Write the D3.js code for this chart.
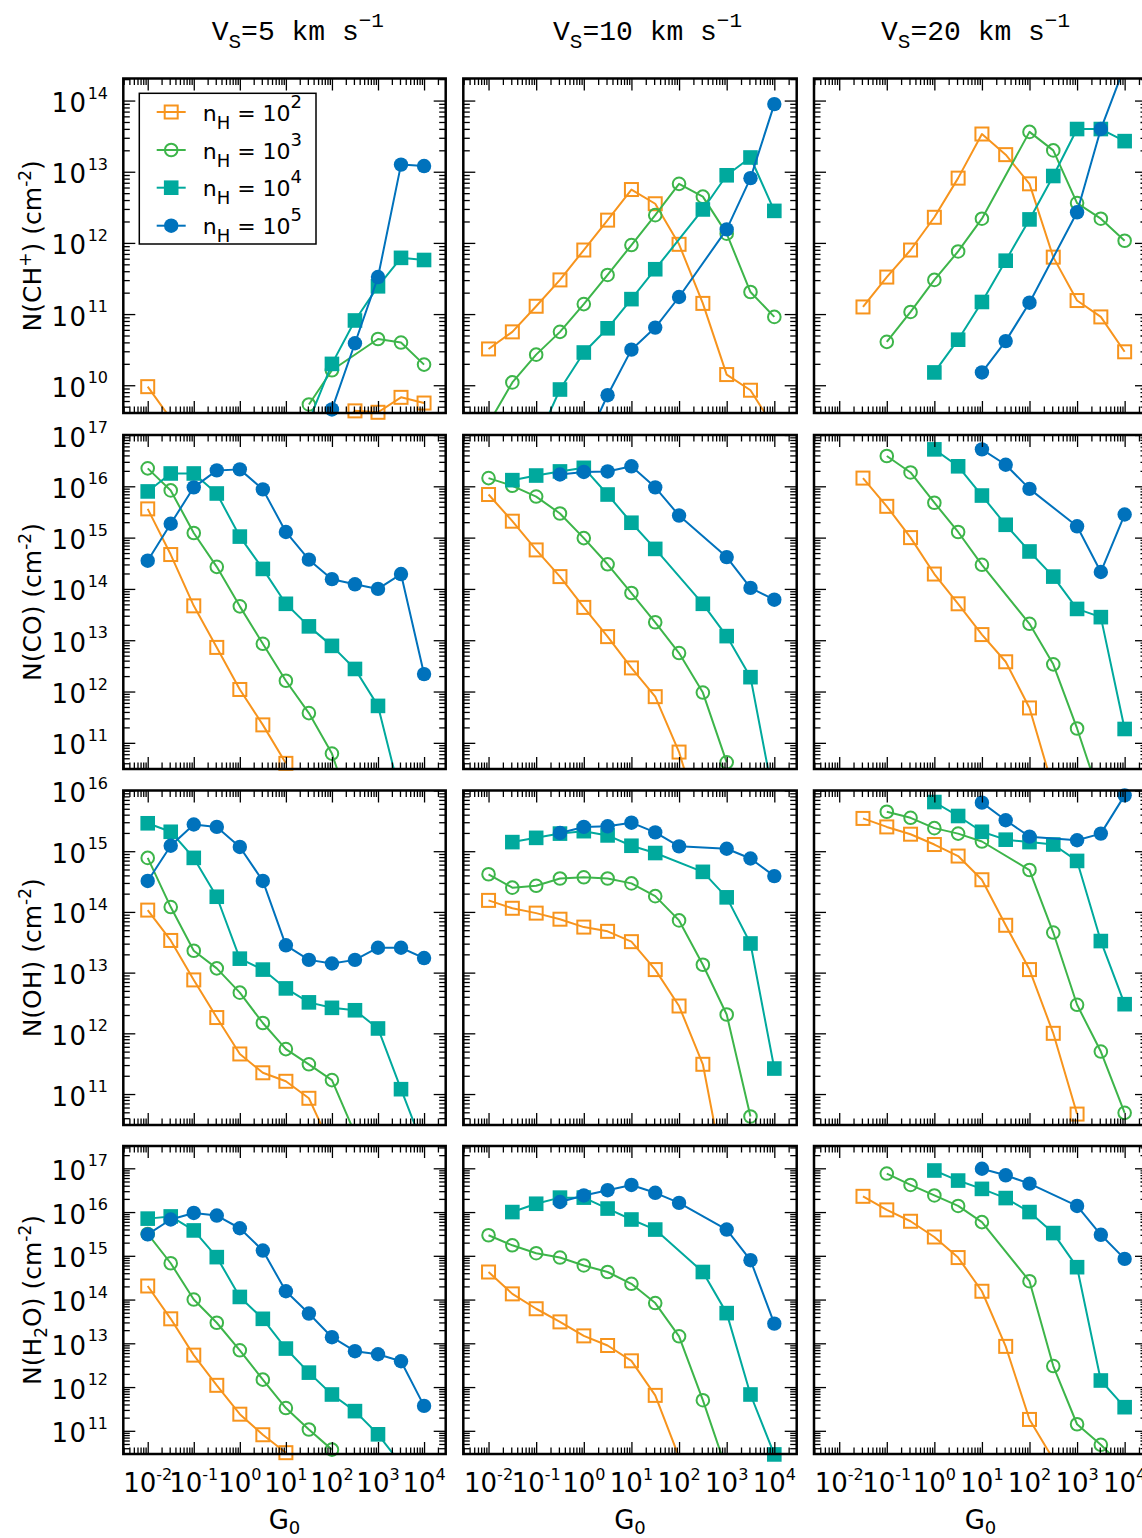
<!DOCTYPE html>
<html><head><meta charset="utf-8">
<script src="https://cdn.jsdelivr.net/npm/d3@7"></script>
<style>body{margin:0;background:#fff} text{white-space:pre}</style>
</head><body>
<svg id="chart" width="1142" height="1538" xmlns="http://www.w3.org/2000/svg"></svg>
<script>
// ---------------- DATA ----------------
const G0 = [0.01, 0.0316, 0.1, 0.316, 1, 3.16, 10, 31.6, 100, 316, 1000, 3160, 10000];
const densityExp = ["2", "3", "4", "5"];
const velocityLabels = ["5", "10", "20"];
const xTickExp = [-2, -1, 0, 1, 2, 3, 4];
const yTickExp_CHp = [10, 11, 12, 13, 14];
const yTickExp_CO  = [11, 12, 13, 14, 15, 16, 17];
const yTickExp_OH  = [11, 12, 13, 14, 15, 16];
const yTickExp_H2O = [11, 12, 13, 14, 15, 16, 17];

// log10 column densities (cm^-2); null = no point
// Row 1: CH+
const CHp_v5_n2  = [9.98, 9.53, null, null, null, null, null, null, 9.30, 9.64, 9.62, 9.83, 9.75];
const CHp_v5_n3  = [null, null, null, null, null, null, null, 9.73, 10.21, null, 10.65, 10.60, 10.29];
const CHp_v5_n4  = [null, null, null, null, null, null, null, 9.50, 10.30, 10.91, 11.39, 11.79, 11.76];
const CHp_v5_n5  = [null, null, null, null, null, null, null, null, 9.66, 10.59, 11.52, 13.10, 13.08];
const CHp_v10_n2 = [10.51, 10.75, 11.11, 11.48, 11.90, 12.32, 12.75, 12.55, 11.98, 11.15, 10.15, 9.93, 9.40];
const CHp_v10_n3 = [9.46, 10.04, 10.43, 10.75, 11.14, 11.55, 11.97, 12.39, 12.83, 12.65, 12.13, 11.31, 10.96];
const CHp_v10_n4 = [null, null, 9.20, 9.94, 10.46, 10.80, 11.21, 11.63, null, 12.47, 12.95, 13.20, 12.45];
const CHp_v10_n5 = [null, null, null, null, 9.14, 9.86, 10.50, 10.81, 11.24, null, 12.19, 12.91, 13.95];
const CHp_v20_n2 = [null, 11.10, 11.52, 11.90, 12.36, 12.91, 13.53, 13.24, 12.83, 11.80, 11.19, 10.96, 10.47];
const CHp_v20_n3 = [null, null, 10.61, 11.03, 11.48, 11.88, 12.34, null, 13.56, 13.30, 12.56, 12.34, 12.03];
const CHp_v20_n4 = [null, null, null, null, 10.18, 10.64, 11.17, 11.75, 12.33, 12.94, 13.60, 13.60, 13.43];
const CHp_v20_n5 = [null, null, null, null, null, null, 10.18, 10.62, 11.16, null, 12.43, 13.60, 14.48];
// Row 2: CO
const CO_v5_n2  = [15.56, 14.67, 13.67, 12.86, 12.04, 11.35, 10.60, null, null, null, null, null, null];
const CO_v5_n3  = [16.35, 15.92, 15.09, 14.43, 13.66, 12.93, 12.21, 11.58, 10.79, 9.45, null, null, null];
const CO_v5_n4  = [15.90, 16.25, 16.25, 15.86, 15.02, 14.39, 13.71, 13.27, 12.89, 12.44, 11.72, 9.93, null];
const CO_v5_n5  = [14.55, 15.27, 15.98, 16.31, 16.33, 15.94, 15.11, 14.57, 14.19, 14.09, 14.00, 14.29, 12.34];
const CO_v10_n2 = [15.84, 15.32, 14.76, 14.24, 13.64, 13.07, 12.46, 11.90, 10.82, 9.30, null, null, null];
const CO_v10_n3 = [16.16, 16.01, 15.80, 15.47, 14.99, 14.48, 13.92, 13.35, 12.75, 11.98, 10.62, null, null];
const CO_v10_n4 = [null, 16.12, 16.21, 16.29, 16.36, 15.84, 15.29, 14.78, null, 13.71, 13.08, 12.28, 9.85];
const CO_v10_n5 = [null, null, null, 16.23, 16.28, 16.29, 16.39, 15.98, 15.43, null, 14.62, 14.02, 13.79];
const CO_v20_n2 = [null, 16.16, 15.61, 15.00, 14.29, 13.71, 13.11, 12.58, 11.68, 10.10, null, null, null];
const CO_v20_n3 = [null, null, 16.59, 16.27, 15.68, 15.11, 14.47, null, 13.32, 12.53, 11.28, 9.89, null];
const CO_v20_n4 = [null, null, null, null, 16.72, 16.39, 15.82, 15.25, 14.73, 14.24, 13.61, 13.45, 11.27];
const CO_v20_n5 = [null, null, null, null, null, null, 16.72, 16.42, 15.95, null, 15.22, 14.33, 15.45];
// Row 3: OH
const OH_v5_n2  = [14.03, 13.53, 12.88, 12.26, 11.66, 11.35, 11.21, 10.93, 10.11, null, null, null, null];
const OH_v5_n3  = [14.89, 14.08, 13.36, 13.07, 12.67, 12.17, 11.74, 11.49, 11.23, 10.35, null, null, null];
const OH_v5_n4  = [15.46, 15.32, 14.89, 14.25, 13.23, 13.05, 12.74, 12.51, 12.42, 12.38, 12.08, 11.08, 10.10];
const OH_v5_n5  = [14.51, 15.09, 15.44, 15.40, 15.07, 14.51, 13.45, 13.21, 13.15, 13.21, 13.41, 13.41, 13.24];
const OH_v10_n2 = [14.19, 14.06, 13.98, 13.88, 13.75, 13.68, 13.51, 13.05, 12.45, 11.49, 9.45, null, null];
const OH_v10_n3 = [14.62, 14.40, 14.43, 14.55, 14.57, 14.55, 14.47, 14.26, 13.86, 13.13, 12.31, 10.63, null];
const OH_v10_n4 = [null, 15.15, 15.22, 15.29, 15.33, 15.26, 15.09, 14.97, null, 14.66, 14.24, 13.48, 11.42];
const OH_v10_n5 = [null, null, null, 15.30, 15.40, 15.41, 15.47, 15.31, 15.08, null, 15.04, 14.88, 14.59];
const OH_v20_n2 = [null, 15.54, 15.40, 15.28, 15.11, 14.92, 14.53, 13.78, 13.05, 12.00, 10.67, null, null];
const OH_v20_n3 = [null, null, 15.65, 15.55, 15.38, 15.29, 15.16, null, 14.69, 13.66, 12.47, 11.70, 10.69];
const OH_v20_n4 = [null, null, null, null, 15.81, 15.58, 15.32, 15.19, 15.15, 15.11, 14.84, 13.52, 12.48];
const OH_v20_n5 = [null, null, null, null, null, null, 15.80, 15.51, 15.24, null, 15.18, 15.29, 15.92];
// Row 4: H2O
const H2O_v5_n2  = [14.31, 13.56, 12.73, 12.04, 11.38, 10.91, 10.50, null, null, null, null, null, null];
const H2O_v5_n3  = [15.50, 14.83, 14.00, 13.47, 12.84, 12.17, 11.52, 11.03, 10.57, null, null, null, null];
const H2O_v5_n4  = [15.85, 15.90, 15.58, 14.97, 14.06, 13.56, 12.88, 12.33, 11.83, 11.45, 10.92, 10.24, null];
const H2O_v5_n5  = [15.49, 15.83, 15.98, 15.92, 15.63, 15.12, 14.19, 13.68, 13.14, 12.82, 12.75, 12.59, 11.57];
const H2O_v10_n2 = [14.63, 14.13, 13.79, 13.49, 13.17, 12.95, 12.60, 11.81, 10.40, null, null, null, null];
const H2O_v10_n3 = [15.47, 15.24, 15.06, 14.96, 14.78, 14.63, 14.36, 13.92, 13.16, 11.70, 10.10, null, null];
const H2O_v10_n4 = [null, 16.00, 16.19, 16.33, 16.33, 16.08, 15.83, 15.60, null, 14.63, 13.69, 11.83, 10.46];
const H2O_v10_n5 = [null, null, null, 16.23, 16.38, 16.50, 16.62, 16.44, 16.21, null, 15.60, 14.90, 13.45];
const H2O_v20_n2 = [null, 16.36, 16.05, 15.79, 15.43, 14.96, 14.19, 12.93, 11.26, 10.35, null, null, null];
const H2O_v20_n3 = [null, null, 16.88, 16.62, 16.38, 16.14, 15.77, null, 14.42, 12.48, 11.15, 10.68, 10.14];
const H2O_v20_n4 = [null, null, null, null, 16.95, 16.72, 16.53, 16.32, 16.00, 15.52, 14.74, 12.15, 11.54];
const H2O_v20_n5 = [null, null, null, null, null, null, 16.99, 16.84, 16.65, null, 16.14, 15.48, 14.93];

// ---------------- LAYOUT ----------------
const table = [
  [[CHp_v5_n2, CHp_v5_n3, CHp_v5_n4, CHp_v5_n5], [CHp_v10_n2, CHp_v10_n3, CHp_v10_n4, CHp_v10_n5], [CHp_v20_n2, CHp_v20_n3, CHp_v20_n4, CHp_v20_n5]],
  [[CO_v5_n2, CO_v5_n3, CO_v5_n4, CO_v5_n5], [CO_v10_n2, CO_v10_n3, CO_v10_n4, CO_v10_n5], [CO_v20_n2, CO_v20_n3, CO_v20_n4, CO_v20_n5]],
  [[OH_v5_n2, OH_v5_n3, OH_v5_n4, OH_v5_n5], [OH_v10_n2, OH_v10_n3, OH_v10_n4, OH_v10_n5], [OH_v20_n2, OH_v20_n3, OH_v20_n4, OH_v20_n5]],
  [[H2O_v5_n2, H2O_v5_n3, H2O_v5_n4, H2O_v5_n5], [H2O_v10_n2, H2O_v10_n3, H2O_v10_n4, H2O_v10_n5], [H2O_v20_n2, H2O_v20_n3, H2O_v20_n4, H2O_v20_n5]]
];
const yTicks = [yTickExp_CHp, yTickExp_CO, yTickExp_OH, yTickExp_H2O];
const colX = [[123.3, 445.7], [463.3, 796.7], [814, 1147]];
const rowY = [
  {top: 78.5, bottom: 413, lo: 9.61, hi: 14.31},
  {top: 435, bottom: 769, lo: 10.49, hi: 17.0},
  {top: 790.5, bottom: 1125, lo: 10.49, hi: 16.0},
  {top: 1146, bottom: 1454, lo: 10.47, hi: 17.51}
];
const xLo = -2.53, xHi = 4.47;
const colors = ["#F7941D", "#3DB54A", "#00A99D", "#0072BC"];
const markerTypes = ["osquare", "ocircle", "fsquare", "fcircle"];
const titleX = [211.7, 553, 881];
const SANS = "DejaVu Sans";
const MONO = "Liberation Mono";

const svg = d3.select("#chart");

function richText(parent, x, y, segs, opts) {
  const t = parent.append("text")
    .attr("x", x).attr("y", y)
    .attr("text-anchor", opts.anchor || "start")
    .attr("font-family", opts.family || SANS)
    .attr("font-size", opts.size)
    .attr("fill", "#000");
  if (opts.transform) t.attr("transform", opts.transform);
  let cur = 0;
  segs.forEach(s => {
    const sh = s.shift || 0;
    const ts = t.append("tspan").attr("dy", sh - cur).attr("font-size", s.size || opts.size).text(s.t);
    if (s.ls) ts.attr("letter-spacing", s.ls);
    cur = sh;
  });
  return t;
}

function drawMarker(g, type, cx, cy, color) {
  if (type === "osquare") {
    g.append("rect").attr("x", cx - 6.5).attr("y", cy - 6.5).attr("width", 13).attr("height", 13)
      .attr("fill", "none").attr("stroke", color).attr("stroke-width", 2);
  } else if (type === "ocircle") {
    g.append("circle").attr("cx", cx).attr("cy", cy).attr("r", 6.3)
      .attr("fill", "none").attr("stroke", color).attr("stroke-width", 2);
  } else if (type === "fsquare") {
    g.append("rect").attr("x", cx - 7.3).attr("y", cy - 7.3).attr("width", 14.6).attr("height", 14.6)
      .attr("fill", color);
  } else {
    g.append("circle").attr("cx", cx).attr("cy", cy).attr("r", 7.2).attr("fill", color);
  }
}

function minorTicks(lo, hi) {
  const out = [];
  for (let k = Math.floor(lo); k <= Math.ceil(hi); k++) {
    for (let m = 2; m <= 9; m++) {
      const v = m * Math.pow(10, k);
      const l = Math.log10(v);
      if (l > lo && l < hi) out.push(v);
    }
  }
  return out;
}
function majorTicks(lo, hi) {
  const out = [];
  for (let k = Math.ceil(lo); k <= Math.floor(hi); k++) out.push(Math.pow(10, k));
  return out;
}

const defs = svg.append("defs");

for (let r = 0; r < 4; r++) {
  for (let c = 0; c < 3; c++) {
    const R = rowY[r];
    const x = d3.scaleLog().domain([Math.pow(10, xLo), Math.pow(10, xHi)]).range(colX[c]);
    const y = d3.scaleLog().domain([Math.pow(10, R.lo), Math.pow(10, R.hi)]).range([R.bottom, R.top]);
    const g = svg.append("g");
    const clipId = `clip-${r}-${c}`;
    defs.append("clipPath").attr("id", clipId).append("rect")
      .attr("x", colX[c][0]).attr("y", R.top)
      .attr("width", colX[c][1] - colX[c][0]).attr("height", R.bottom - R.top);

    const line = d3.line().x(d => x(d.g)).y(d => y(d.N));
    table[r][c].forEach((arr, s) => {
      const pts = G0.map((gv, i) => ({g: gv, v: arr[i]}))
        .filter(d => d.v !== null)
        .map(d => ({g: d.g, N: Math.pow(10, d.v)}));
      g.append("path").datum(pts)
        .attr("d", line)
        .attr("fill", "none").attr("stroke", colors[s]).attr("stroke-width", 2)
        .attr("stroke-linejoin", "round")
        .attr("clip-path", `url(#${clipId})`);
      const mg = g.append("g");
      pts.filter(d => { const py = y(d.N); return py >= R.top - 2.5 && py <= R.bottom + 2.5; })
        .forEach(d => drawMarker(mg, markerTypes[s], x(d.g), y(d.N), colors[s]));
    });

    // ticks (inward)
    const xMaj = majorTicks(xLo, xHi), xMin = minorTicks(xLo, xHi);
    const yMaj = majorTicks(R.lo, R.hi), yMin = minorTicks(R.lo, R.hi);
    const axes = [
      [d3.axisBottom(x), `translate(0,${R.bottom})`, xMaj, xMin],
      [d3.axisTop(x), `translate(0,${R.top})`, xMaj, xMin],
      [d3.axisLeft(y), `translate(${colX[c][0]},0)`, yMaj, yMin],
      [d3.axisRight(y), `translate(${colX[c][1]},0)`, yMaj, yMin]
    ];
    axes.forEach(([ax, tr, maj, mnr]) => {
      [[maj, 12], [mnr, 6.5]].forEach(([vals, len]) => {
        const a = g.append("g").attr("transform", tr)
          .call(ax.tickValues(vals).tickSize(-len).tickFormat(() => ""));
        a.select(".domain").remove();
        a.selectAll("line").attr("stroke", "#000").attr("stroke-width", 1.3);
        a.selectAll("text").remove();
      });
    });

    // frame
    g.append("rect").attr("x", colX[c][0]).attr("y", R.top)
      .attr("width", colX[c][1] - colX[c][0]).attr("height", R.bottom - R.top)
      .attr("fill", "none").attr("stroke", "#000").attr("stroke-width", 2.5);

    // y tick labels (first column)
    if (c === 0) {
      yTicks[r].forEach(e => {
        const py = y(Math.pow(10, e));
        richText(svg, 108, py + 11.5, [{t: "10", ls: 1.5}, {t: String(e), shift: -13.5, size: 16}], {anchor: "end", size: 26});
      });
    }
    // x tick labels (bottom row)
    if (r === 3) {
      xTickExp.forEach(e => {
        const px = x(Math.pow(10, e));
        richText(svg, px, 1491.7, [{t: "10"}, {t: String(e), shift: -12, size: 16}], {anchor: "middle", size: 26});
      });
      richText(svg, (colX[c][0] + colX[c][1]) / 2, 1529, [{t: "G"}, {t: "0", shift: 4.5, size: 18}], {anchor: "middle", size: 26});
    }
  }
}

// column titles
velocityLabels.forEach((v, c) => {
  richText(svg, titleX[c], 40, [
    {t: "V"}, {t: "S", shift: 8, size: 21}, {t: `=${v} km s`}, {t: "\u22121", shift: -13, size: 21}
  ], {family: MONO, size: 28});
});

// y axis labels
const yLabelSegs = [
  [{t: "N(CH"}, {t: "+", shift: -10, size: 17}, {t: ") (cm"}, {t: "-2", shift: -10, size: 17}, {t: ")"}],
  [{t: "N(CO) (cm"}, {t: "-2", shift: -10, size: 17}, {t: ")"}],
  [{t: "N(OH) (cm"}, {t: "-2", shift: -10, size: 17}, {t: ")"}],
  [{t: "N(H"}, {t: "2", shift: 6, size: 17}, {t: "O) (cm"}, {t: "-2", shift: -10, size: 17}, {t: ")"}]
];
yLabelSegs.forEach((segs, r) => {
  const cy = (rowY[r].top + rowY[r].bottom) / 2;
  richText(svg, 0, 0, segs, {anchor: "middle", size: 25, transform: `translate(41,${cy}) rotate(-90)`});
});

// legend (top-left panel)
const lg = svg.append("g");
lg.append("rect").attr("x", 139.3).attr("y", 93.3).attr("width", 176.7).attr("height", 150.7)
  .attr("fill", "#fff").attr("stroke", "#000").attr("stroke-width", 1.5);
const legendRows = [112, 150, 187.7, 225.7];
densityExp.forEach((d, s) => {
  const ly = legendRows[s];
  lg.append("line").attr("x1", 156.7).attr("x2", 185.7).attr("y1", ly).attr("y2", ly)
    .attr("stroke", colors[s]).attr("stroke-width", 2);
  drawMarker(lg, markerTypes[s], 171.2, ly, colors[s]);
  richText(lg, 202.7, ly + 8.5, [
    {t: "n"}, {t: "H", shift: 8, size: 18}, {t: " = 10"}, {t: d, shift: -13, size: 18}
  ], {size: 22});
});
</script>
</body></html>
